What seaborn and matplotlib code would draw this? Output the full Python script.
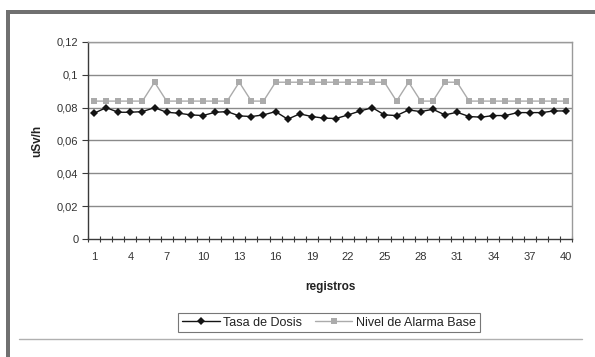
import matplotlib
matplotlib.use("Agg")
import matplotlib.pyplot as plt
import seaborn as sns
import pandas as pd
import numpy as np
from matplotlib.lines import Line2D
from matplotlib.patches import Rectangle

registros = list(range(1, 41))
tasa_dosis = [0.0766, 0.0800, 0.0772, 0.0772, 0.0776, 0.0800, 0.0772, 0.0766, 0.0756, 0.0752,
              0.0772, 0.0776, 0.0750, 0.0746, 0.0756, 0.0776, 0.0730, 0.0762, 0.0746, 0.0736,
              0.0734, 0.0756, 0.0780, 0.0800, 0.0756, 0.0752, 0.0786, 0.0776, 0.0790, 0.0756,
              0.0772, 0.0746, 0.0742, 0.0752, 0.0752, 0.0770, 0.0770, 0.0770, 0.0780, 0.0780]
nivel_alarma = [0.084, 0.084, 0.084, 0.084, 0.084, 0.0955, 0.084, 0.084, 0.084, 0.084,
                0.084, 0.084, 0.0955, 0.084, 0.084, 0.0955, 0.0955, 0.0955, 0.0955, 0.0955,
                0.0955, 0.0955, 0.0955, 0.0955, 0.0955, 0.084, 0.0955, 0.084, 0.084, 0.0955,
                0.0955, 0.084, 0.084, 0.084, 0.084, 0.084, 0.084, 0.084, 0.084, 0.084]
series_names = ["Tasa de Dosis", "Nivel de Alarma Base"]
y_ticks = [0, 0.02, 0.04, 0.06, 0.08, 0.1, 0.12]
y_tick_labels = ["0", "0,02", "0,04", "0,06", "0,08", "0,1", "0,12"]
x_ticks = list(range(1, 41, 3))

df = pd.DataFrame({
    "registros": registros * 2,
    "valor": tasa_dosis + nivel_alarma,
    "serie": [series_names[0]] * 40 + [series_names[1]] * 40,
})

sns.set_style("white")
plt.rcParams["font.family"] = ["Liberation Sans", "DejaVu Sans"]

W, H = 595, 357
fig = plt.figure(figsize=(W / 100, H / 100), dpi=100)
ax = fig.add_axes([88 / W, 1 - 239 / H, 484 / W, 197 / H])

sns.lineplot(data=df, x="registros", y="valor", hue="serie", style="serie",
             palette={series_names[0]: "#141414", series_names[1]: "#ababab"},
             markers={series_names[0]: "D", series_names[1]: "s"},
             dashes=False, markersize=4.5, linewidth=1.0, markeredgewidth=0,
             legend=False, ax=ax, zorder=3)

ax.set_xlim(0.5, 40.5)
ax.set_ylim(0, 0.12)
ax.set_yticks(y_ticks)
ax.set_yticklabels(y_tick_labels)
ax.set_xticks(x_ticks)
ax.set_xticklabels([str(t) for t in x_ticks])
ax.set_xticks(np.arange(0.5, 41, 1), minor=True)

for y in y_ticks[1:]:
    ax.axhline(y, color="#8a8a8a", linewidth=1.0, zorder=1)

for side in ["left", "bottom"]:
    ax.spines[side].set_color("#3a3a3a")
    ax.spines[side].set_linewidth(1.0)
for side in ["top", "right"]:
    ax.spines[side].set_color("#9a9a9a")
    ax.spines[side].set_linewidth(1.0)

ax.tick_params(axis="y", which="major", direction="out", length=4, width=0.8,
               color="#3a3a3a", labelsize=8, labelcolor="#333333", pad=3, left=True)
ax.tick_params(axis="x", which="major", length=0, labelsize=8, labelcolor="#333333", pad=9, bottom=True)
ax.tick_params(axis="x", which="minor", direction="inout", length=4, width=0.8, color="#3a3a3a", bottom=True)

ax.set_xlabel("registros", fontsize=8.5, fontweight="bold", color="#222222", labelpad=14)
ax.set_ylabel("uSv/h", fontsize=8.5, fontweight="bold", color="#222222", labelpad=10)

handles = [
    Line2D([], [], color="#141414", marker="D", markersize=4, markeredgewidth=0, linewidth=1.0),
    Line2D([], [], color="#ababab", marker="s", markersize=4, markeredgewidth=0, linewidth=1.0),
]
leg = fig.legend(handles, series_names, loc="center", bbox_to_anchor=(329 / W, 1 - 322.5 / H),
                 ncol=2, fontsize=9, frameon=True, fancybox=False, handlelength=3.0,
                 columnspacing=1.0, handletextpad=0.3, borderpad=0.3, borderaxespad=0)
leg.get_frame().set_edgecolor("#555555")
leg.get_frame().set_linewidth(0.8)
for t in leg.get_texts():
    t.set_color("#222222")

# outer frame decorations
fig.add_artist(Rectangle((6 / W, 1 - 13.5 / H), (W - 6) / W, 4 / H, transform=fig.transFigure,
                         facecolor="#707070", edgecolor="none"))
fig.add_artist(Rectangle((6 / W, 0), 4 / W, 1 - 9.5 / H, transform=fig.transFigure,
                         facecolor="#707070", edgecolor="none"))
fig.add_artist(Line2D([19 / W, 582 / W], [1 - 339 / H, 1 - 339 / H], transform=fig.transFigure,
                      color="#b0b0b0", linewidth=1.0))

fig.savefig("out.png", dpi=100)
